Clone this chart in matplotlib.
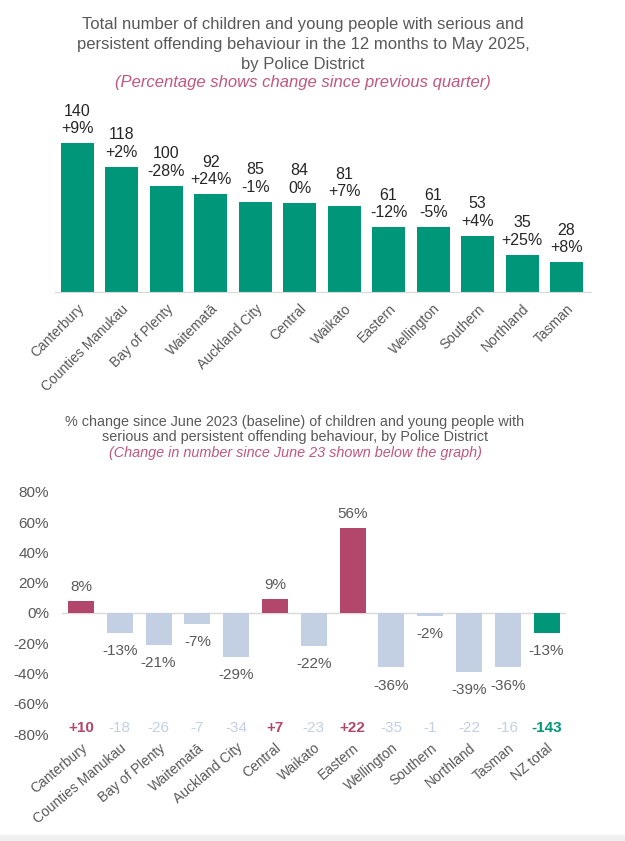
import matplotlib
matplotlib.use("Agg")
import matplotlib.pyplot as plt
import matplotlib.transforms as mtransforms
from matplotlib.patches import Rectangle

plt.rcParams["font.family"] = ["Liberation Sans", "DejaVu Sans"]

# top chart: totals in the 12 months to May 2025
districts = ["Canterbury", "Counties Manukau", "Bay of Plenty", "Waitematā", "Auckland City",
             "Central", "Waikato", "Eastern", "Wellington", "Southern", "Northland", "Tasman"]
totals = [140, 118, 100, 92, 85, 84, 81, 61, 61, 53, 35, 28]
qtr_change = ["+9%", "+2%", "-28%", "+24%", "-1%", "0%", "+7%", "-12%", "-5%", "+4%", "+25%", "+8%"]

# bottom chart: % change since June 2023
districts2 = ["Canterbury", "Counties Manukau", "Bay of Plenty", "Waitematā", "Auckland City",
              "Central", "Waikato", "Eastern", "Wellington", "Southern", "Northland", "Tasman", "NZ total"]
pct_change = [8, -13, -21, -7, -29, 9, -22, 56, -36, -2, -39, -36, -13]
num_change = [10, -18, -26, -7, -34, 7, -23, 22, -35, -1, -22, -16, -143]

GREEN = "#00967a"
PINK = "#b3476b"
BLUE = "#c3cfe3"
GREY = "#595959"
SUB = "#c0577f"
W, H = 625, 841

fig = plt.figure(figsize=(6.25, 8.41), dpi=100)
fig.patches.append(Rectangle((0, 0), 1, 6 / H, transform=fig.transFigure,
                             color="#f0f0f0", zorder=-1))


def fy(px):
    return 1 - px / H


# ---- top chart ----
tx = 303 / W
fig.text(tx, fy(24), "Total number of children and young people with serious and",
         ha="center", va="center", fontsize=12, color=GREY)
fig.text(tx, fy(44), "persistent offending behaviour in the 12 months to May 2025,",
         ha="center", va="center", fontsize=12, color=GREY)
fig.text(tx, fy(64), "by Police District", ha="center", va="center", fontsize=12, color=GREY)
fig.text(tx, fy(83), "(Percentage shows change since previous quarter)",
         ha="center", va="center", fontsize=12, color=SUB, style="italic")

ax1 = fig.add_axes([55 / W, fy(292), 536 / W, 186 / H])
x1 = range(len(districts))
ax1.bar(x1, totals, width=0.74, color=GREEN)
ax1.set_xlim(-0.5, 11.55)
ax1.set_ylim(0, 175)
for s in ["top", "right", "left"]:
    ax1.spines[s].set_visible(False)
ax1.spines["bottom"].set_color("#d9d9d9")
ax1.set_yticks([])
ax1.set_xticks(list(x1))
ax1.set_xticklabels(districts, rotation=45, ha="right", rotation_mode="anchor",
                    fontsize=10, color=GREY)
ax1.tick_params(axis="x", length=0, pad=7)
for i, (v, c) in enumerate(zip(totals, qtr_change)):
    ax1.annotate(f"{v}\n{c}", (i, v), xytext=(0, 5), textcoords="offset points",
                 ha="center", va="bottom", fontsize=11.5, color="#262626",
                 linespacing=1.2)

# ---- bottom chart ----
bx = 295 / W
fig.text(bx, fy(422), "% change since June 2023 (baseline) of children and young people with",
         ha="center", va="center", fontsize=10.4, color=GREY)
fig.text(bx, fy(437), "serious and persistent offending behaviour, by Police District",
         ha="center", va="center", fontsize=10.4, color=GREY)
fig.text(bx, fy(453), "(Change in number since June 23 shown below the graph)",
         ha="center", va="center", fontsize=10.4, color=SUB, style="italic")

ax2 = fig.add_axes([61.5 / W, fy(734), 504.5 / W, 242 / H])
x2 = range(len(districts2))
colors = []
for i, v in enumerate(pct_change):
    if i == len(pct_change) - 1:
        colors.append(GREEN)
    elif v > 0:
        colors.append(PINK)
    else:
        colors.append(BLUE)
ax2.bar(x2, pct_change, width=0.67, color=colors, zorder=2)
ax2.axhline(0, color="#d9d9d9", lw=1, zorder=1)
ax2.set_xlim(-0.5, 12.5)
ax2.set_ylim(-80, 80)
for s in ax2.spines.values():
    s.set_visible(False)
ax2.set_yticks(range(-80, 81, 20))
ax2.set_yticklabels([f"{t}%" for t in range(-80, 81, 20)], fontsize=11, color=GREY)
ax2.tick_params(axis="y", length=0, pad=9)
ax2.set_xticks(list(x2))
ax2.set_xticklabels(districts2, rotation=40, ha="right", rotation_mode="anchor",
                    fontsize=10, color=GREY)
ax2.tick_params(axis="x", length=0, pad=5)

for i, v in enumerate(pct_change):
    if v >= 0:
        ax2.annotate(f"{v}%", (i, v), xytext=(0, 5), textcoords="offset points",
                     ha="center", va="bottom", fontsize=11, color=GREY)
    else:
        ax2.annotate(f"{v}%", (i, v), xytext=(0, -8), textcoords="offset points",
                     ha="center", va="top", fontsize=11, color=GREY)

trans = mtransforms.blended_transform_factory(ax2.transData, ax2.transAxes)
for i, n in enumerate(num_change):
    label = f"+{n}" if n > 0 else f"{n}"
    if i == len(num_change) - 1:
        col, wt = GREEN, "bold"
    elif n > 0:
        col, wt = PINK, "bold"
    else:
        col, wt = BLUE, "normal"
    ax2.text(i, 0.025, label, transform=trans, ha="center", va="center",
             fontsize=11, color=col, fontweight=wt)

fig.savefig("out.png", dpi=100)
